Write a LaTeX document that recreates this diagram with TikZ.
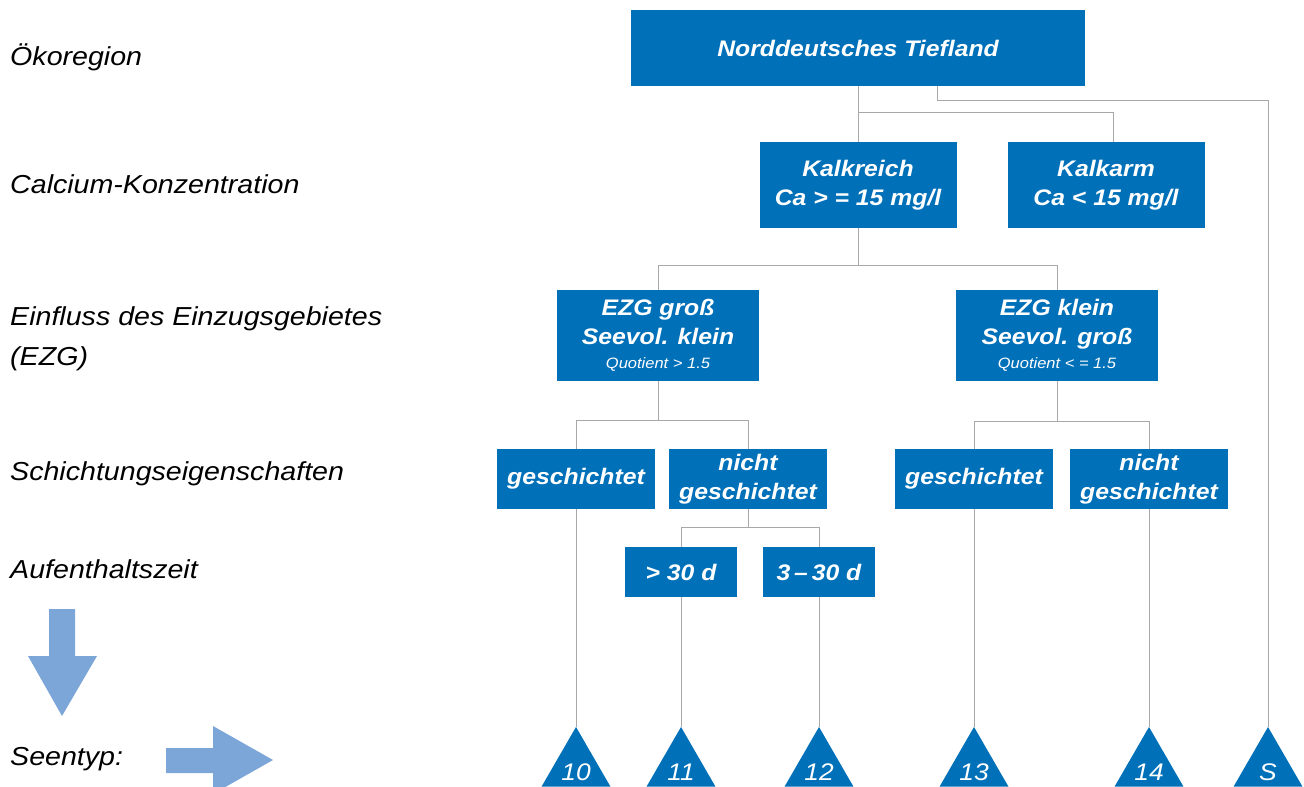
\documentclass[tikz,border=0pt]{standalone}
\usepackage{fontspec}
\setmainfont{Liberation Sans}[FakeStretch=1.1]
\usepackage{tikz}
\usetikzlibrary{shapes.geometric}
\definecolor{boxblue}{RGB}{0,112,185}
\definecolor{arrowblue}{RGB}{125,166,216}
\definecolor{linegray}{RGB}{168,168,168}
\tikzset{
 box/.style 2 args={fill=boxblue,text=white,align=center,inner sep=0pt,
  minimum width=#1pt,minimum height=#2pt,
  font=\bfseries\itshape\fontsize{22.5}{29}\selectfont},
 tri/.style={regular polygon,regular polygon sides=3,fill=boxblue,inner sep=0pt,
  minimum size=79.7pt,label={[text=white,yshift=-5pt,font=\itshape\fontsize{24}{24}\selectfont]center:#1}},
 lbl/.style={anchor=base west,inner sep=0pt,font=\itshape\fontsize{26}{30}\selectfont},
 conn/.style={draw=linegray,line width=1pt}
}
\newcommand{\quot}[1]{\\[-5pt]{\fontsize{15}{15}\selectfont\mdseries #1}}
\begin{document}
\begin{tikzpicture}[x=1pt,y=-1pt]
\useasboundingbox (0,0) rectangle (1304,787);
%% left column
\node[lbl] (l1) at (10,65) {Ökoregion};
\node[lbl] (l2) at (10,193) {Calcium-Konzentration};
\node[lbl] (l3) at (10,325) {Einfluss des Einzugsgebietes};
\node[lbl] (l3b) at (10,365) {(EZG)};
\node[lbl] (l4) at (10,480) {Schichtungseigenschaften};
\node[lbl] (l5) at (10,578) {Aufenthaltszeit};
\node[lbl] (l6) at (10,765) {Seentyp:};
\fill[arrowblue](49,609)--(75,609)--(75,656)--(97,656)--(62,716)--(28,656)--(49,656)--cycle;
\fill[arrowblue](166,748)--(213,748)--(213,726)--(273,760)--(213,794)--(213,773)--(166,773)--cycle;
%% boxes
\node[box={454}{76}] (nt) at (858,48) {Norddeutsches Tiefland};
\node[box={197}{86}] (kreich) at (858,185) {Kalkreich\\Ca > = 15 mg/l};
\node[box={197}{86}] (karm) at (1106,185) {Kalkarm\\Ca < 15 mg/l};
\node[box={202}{91}] (gross) at (658,335.5) {EZG groß\\Seevol. klein\quot{Quotient > 1.5}};
\node[box={202}{91}] (klein) at (1057,335.5) {EZG klein\\Seevol. groß\quot{Quotient < = 1.5}};
\node[box={158}{60}] (g1) at (576,479) {geschichtet};
\node[box={158}{60}] (n1) at (748,479) {nicht\\geschichtet};
\node[box={112}{50}] (d1) at (681,572) {> 30 d};
\node[box={112}{50}] (d2) at (819,572) {3\,–\,30 d};
\node[box={158}{60}] (g2) at (974,479) {geschichtet};
\node[box={158}{60}] (n2) at (1149,479) {nicht\\geschichtet};
%% lake types
\node[tri=10] (t10) at (576,766.8) {};
\node[tri=11] (t11) at (681,766.8) {};
\node[tri=12] (t12) at (819,766.8) {};
\node[tri=13] (t13) at (974,766.8) {};
\node[tri=14] (t14) at (1149,766.8) {};
\node[tri=S] (tS) at (1268,766.8) {};
%% connectors
\draw[conn](nt)--(kreich);
\draw[conn](nt.south)--++(0,26)-|([xshift=7pt]karm.north);
\draw[conn]([xshift=79pt]nt.south)--++(0,14)-|(tS.north);
\draw[conn](kreich.south)--++(0,37)-|(gross.north);
\draw[conn](kreich.south)--++(0,37)-|(klein.north);
\draw[conn](gross.south)--++(0,39)-|(g1.north);
\draw[conn](gross.south)--++(0,39)-|(n1.north);
\draw[conn](klein.south)--++(0,40)-|(g2.north);
\draw[conn](klein.south)--++(0,40)-|(n2.north);
\draw[conn](n1.south)--++(0,18)-|(d1.north);
\draw[conn](n1.south)--++(0,18)-|(d2.north);
\draw[conn](g1.south)--(t10.north);
\draw[conn](d1.south)--(t11.north);
\draw[conn](d2.south)--(t12.north);
\draw[conn](g2.south)--(t13.north);
\draw[conn](n2.south)--(t14.north);
\end{tikzpicture}
\end{document}
